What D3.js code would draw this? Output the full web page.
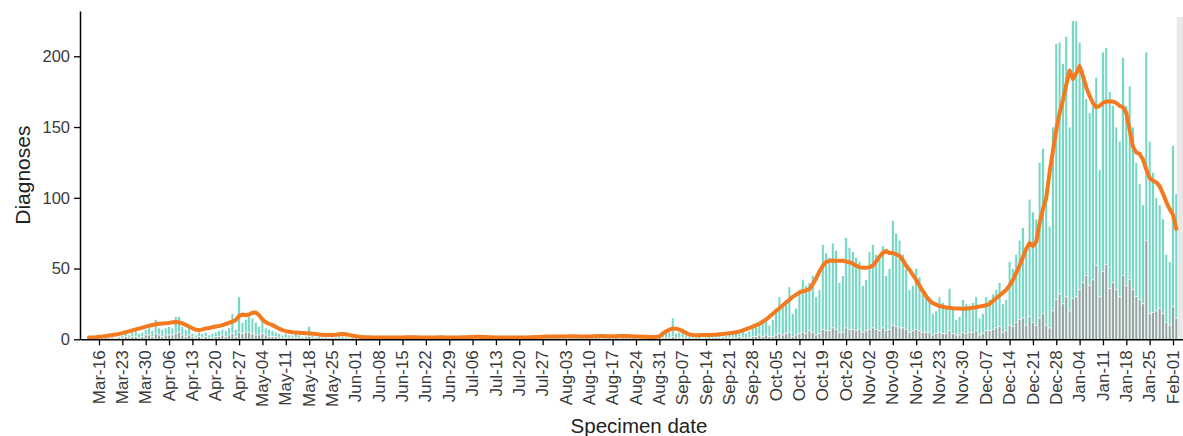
<!DOCTYPE html>
<html>
<head>
<meta charset="utf-8">
<script src="https://cdn.jsdelivr.net/npm/d3@7/dist/d3.min.js"></script>
<style>
  html, body { margin: 0; padding: 0; background: #fff; }
  svg { display: block; }
  text { font-family: "Liberation Sans", Arial, sans-serif; }
</style>
</head>
<body>
<svg id="chart" width="1183" height="436"></svg>
<script>
// Daily diagnoses by specimen date, 13 Mar 2020 – 2 Feb 2021.
// Each row below is one week (Mon..Sun); the first row is the partial week Fri 13 – Sun 15 Mar.
const firstDay = "2020-03-13";

// Full bar height (all diagnoses per day)
const dailyTotal = [
  1, 1, 2,
  2, 1, 2, 3, 2, 1, 2,            // Mar-16
  3, 4, 3, 5, 6, 4, 5,            // Mar-23
  7, 8, 6, 14, 8, 7, 8,           // Mar-30
  9, 8, 16, 16, 9, 7, 8,          // Apr-06
  4, 3, 5, 4, 5, 3, 4,            // Apr-13
  5, 6, 7, 6, 8, 18, 7,           // Apr-20
  30, 12, 14, 16, 15, 12, 9,      // Apr-27
  16, 8, 7, 6, 5, 4, 3,           // May-04
  4, 3, 3, 4, 3, 2, 2,            // May-11
  9, 3, 2, 2, 3, 2, 1,            // May-18
  3, 2, 3, 2, 2, 1, 2,            // May-25
  2, 1, 2, 1, 1, 1, 0,            // Jun-01
  2, 1, 1, 2, 1, 0, 1,            // Jun-08
  2, 1, 2, 1, 1, 1, 0,            // Jun-15
  1, 2, 1, 1, 2, 1, 1,            // Jun-22
  2, 1, 1, 2, 2, 1, 1,            // Jun-29
  2, 2, 1, 2, 1, 1, 1,            // Jul-06
  1, 2, 1, 1, 2, 1, 0,            // Jul-13
  1, 1, 2, 2, 1, 1, 2,            // Jul-20
  2, 3, 2, 1, 2, 2, 1,            // Jul-27
  2, 2, 3, 2, 1, 2, 2,            // Aug-03
  3, 2, 2, 3, 2, 1, 2,            // Aug-10
  2, 3, 2, 2, 3, 1, 2,            // Aug-17
  2, 1, 2, 2, 1, 1, 2,            // Aug-24
  3, 4, 6, 5, 15, 4, 5,           // Aug-31
  5, 3, 2, 3, 2, 2, 1,            // Sep-07
  3, 2, 3, 4, 3, 2, 3,            // Sep-14
  4, 5, 5, 6, 7, 4, 6,            // Sep-21
  9, 10, 12, 14, 15, 10, 14,      // Sep-28
  22, 30, 23, 28, 37, 18, 22,     // Oct-05
  35, 42, 38, 40, 45, 30, 35,     // Oct-12
  67, 61, 58, 68, 63, 40, 45,     // Oct-19
  72, 65, 62, 58, 55, 38, 42,     // Oct-26
  62, 67, 60, 58, 66, 45, 50,     // Nov-02
  84, 75, 70, 60, 50, 35, 38,     // Nov-09
  50, 44, 35, 30, 28, 18, 20,     // Nov-16
  30, 26, 24, 36, 22, 14, 16,     // Nov-23
  28, 25, 24, 26, 30, 15, 18,     // Nov-30
  30, 28, 32, 35, 40, 25, 28,     // Dec-07
  55, 50, 60, 70, 79, 62, 99,     // Dec-14
  90, 85, 125, 135, 100, 80, 150, // Dec-21
  209, 210, 195, 214, 150, 225, 225, // Dec-28
  210, 190, 170, 160, 165, 185, 120, // Jan-04
  203, 206, 175, 165, 150, 140, 199, // Jan-11
  165, 179, 150, 125, 110, 95, 203,  // Jan-18
  140, 118, 100, 95, 85, 60, 55,     // Jan-25
  137, 103                           // Feb-01
];

// Lower (grey) part of each bar
const dailyGrey = [
  0, 0, 1,
  1, 0, 1, 1, 1, 0, 1,
  1, 2, 1, 2, 2, 1, 2,
  3, 3, 2, 4, 3, 2, 3,
  3, 3, 4, 5, 3, 2, 3,
  2, 1, 2, 1, 2, 1, 1,
  2, 2, 3, 2, 3, 4, 2,
  5, 4, 5, 5, 4, 3, 3,
  4, 3, 2, 2, 2, 1, 1,
  1, 1, 1, 1, 1, 1, 0,
  2, 1, 1, 0, 1, 1, 0,
  1, 1, 1, 0, 1, 0, 1,
  1, 0, 1, 0, 0, 0, 0,
  1, 0, 0, 1, 0, 0, 0,
  0, 1, 0, 0, 0, 0, 0,
  0, 0, 1, 0, 1, 0, 0,
  1, 0, 0, 0, 1, 0, 0,
  0, 1, 0, 1, 0, 0, 0,
  0, 0, 1, 0, 0, 1, 0,
  0, 0, 1, 1, 0, 0, 1,
  1, 1, 0, 0, 1, 0, 0,
  0, 1, 1, 0, 0, 1, 1,
  1, 0, 1, 1, 0, 0, 1,
  0, 1, 0, 1, 1, 0, 1,
  1, 0, 1, 0, 0, 0, 1,
  1, 1, 1, 1, 2, 1, 1,
  1, 1, 0, 1, 1, 0, 0,
  1, 0, 1, 1, 1, 0, 1,
  1, 1, 1, 2, 1, 1, 1,
  2, 2, 3, 2, 3, 2, 2,
  3, 4, 3, 4, 5, 2, 3,
  4, 5, 4, 6, 5, 3, 4,
  7, 6, 6, 8, 7, 5, 5,
  8, 7, 7, 6, 7, 5, 6,
  7, 8, 7, 6, 8, 6, 7,
  10, 9, 8, 8, 7, 5, 6,
  7, 6, 5, 5, 5, 3, 4,
  5, 4, 4, 6, 4, 3, 3,
  5, 4, 5, 5, 6, 3, 4,
  6, 6, 7, 8, 9, 5, 6,
  10, 9, 12, 14, 15, 10, 16,
  12, 10, 15, 18, 10, 8, 20,
  28, 32, 25, 30, 20, 29, 30,
  35, 40, 45, 38, 42, 52, 30,
  48, 53, 36, 40, 35, 30, 45,
  38, 42, 35, 30, 28, 25, 70,
  18, 19, 20, 22, 18, 12, 10,
  23, 15
];

// Seven-day average of diagnoses (orange line)
const sevenDayAvg = [
  1.2, 1.3, 1.5,
  1.8, 2.0, 2.3, 2.7, 3.0, 3.4, 3.8,
  4.4, 5.0, 5.6, 6.3, 7.0, 7.6, 8.3,
  9.0, 9.6, 10.1, 10.6, 11.0, 11.2, 11.4,
  11.6, 12.0, 12.3, 12.0, 11.2, 10.2, 9.0,
  7.8, 6.8, 6.5, 7.0, 7.6, 8.0, 8.5,
  9.0, 9.4, 10.0, 10.8, 11.6, 12.5, 13.6,
  16.5, 17.5, 17.0, 17.5, 18.8, 19.0, 17.0,
  14.0, 12.0, 11.0, 10.0, 8.8, 7.5, 6.5,
  5.8, 5.3, 5.0, 4.8, 4.6, 4.4, 4.2,
  4.2, 4.0, 3.7, 3.4, 3.2, 3.0, 3.0,
  3.0, 3.2, 3.6, 3.8, 3.6, 3.0, 2.6,
  2.2, 1.8, 1.6, 1.5, 1.4, 1.3, 1.3,
  1.2, 1.2, 1.2, 1.3, 1.3, 1.2, 1.2,
  1.3, 1.4, 1.5, 1.5, 1.4, 1.3, 1.2,
  1.2, 1.2, 1.3, 1.3, 1.4, 1.4, 1.3,
  1.3, 1.2, 1.2, 1.3, 1.4, 1.5, 1.6,
  1.7, 1.8, 1.8, 1.7, 1.6, 1.5, 1.4,
  1.3, 1.3, 1.2, 1.2, 1.3, 1.3, 1.3,
  1.2, 1.2, 1.3, 1.4, 1.5, 1.6, 1.7,
  1.8, 1.9, 1.9, 2.0, 2.0, 1.9, 1.9,
  2.0, 2.1, 2.2, 2.1, 2.0, 1.9, 1.9,
  2.0, 2.1, 2.2, 2.3, 2.3, 2.2, 2.1,
  2.1, 2.2, 2.3, 2.4, 2.3, 2.2, 2.1,
  2.0, 1.9, 1.8, 1.8, 1.7, 1.7, 1.8,
  2.0, 4.0, 5.6, 6.8, 7.6, 7.5, 6.8,
  5.8, 4.5, 3.4, 3.0, 2.9, 2.9, 3.0,
  3.0, 3.1, 3.2, 3.3, 3.5, 3.7, 4.0,
  4.3, 4.6, 5.0, 5.6, 6.3, 7.2, 8.0,
  9.0, 10.0, 11.0, 12.5, 14.0, 16.0, 18.0,
  20, 22, 24, 26, 28, 30, 31.5,
  33, 34, 34.5, 35.5, 39, 43, 48,
  52, 54.5, 55.5, 55.5, 55.5, 55.5, 55.5,
  55, 54.5, 53.5, 52, 51, 50.5, 50.5,
  51, 52, 55, 58.5, 61, 62.5, 61,
  61, 60, 59, 56, 52, 49, 45.5,
  42, 38, 34, 30.5, 27.5, 25.5, 24.5,
  23.5, 23, 22.5, 22.3, 22, 21.8, 21.7,
  21.6, 21.7, 22, 22.3, 22.7, 23.2, 23.6,
  24, 25, 27, 29, 31, 33, 35,
  38, 42, 47, 52, 58, 64, 68,
  66, 69, 82, 92, 100, 118, 133,
  148, 160, 169, 180, 190, 184, 188,
  193, 186, 178, 172, 167, 164, 165,
  167, 168, 168, 168, 167, 165, 164,
  160, 148, 136, 132, 131, 127, 120,
  114, 112, 111, 108, 103, 97, 92,
  88, 78
];

const yTicks = [0, 50, 100, 150, 200];
const firstTick = "2020-03-16";
const lastTick = "2021-02-01";
const incompleteFrom = "2021-02-02T02:00:00Z";

const W = 1183, H = 436;
const plotLeft = 80, plotRight = 1183, plotTop = 11, plotBottom = 339.3;

const parse = d3.utcParse("%Y-%m-%d");
const day0 = parse(firstDay);
const rows = dailyTotal.map((t, i) => ({
  date: d3.utcDay.offset(day0, i),
  total: t,
  grey: dailyGrey[i],
  avg: sevenDayAvg[i]
}));

// Tick dates sit at fixed pixel positions; extend the same scale to the panel edges
const xRef = d3.scaleUtc()
  .domain([parse(firstTick), parse(lastTick)])
  .range([99, 1173]);
const x = d3.scaleUtc()
  .domain([xRef.invert(plotLeft), xRef.invert(plotRight)])
  .range([plotLeft, plotRight]);

const y = d3.scaleLinear().domain([0, 232]).range([plotBottom, plotTop]);

const svg = d3.select("#chart");

// shaded region for the most recent, incomplete days
svg.append("rect")
  .attr("x", x(new Date(incompleteFrom)))
  .attr("y", 17)
  .attr("width", plotRight - x(new Date(incompleteFrom)) + 5)
  .attr("height", plotBottom - 17)
  .attr("fill", "#e9e9e9");

const step = x(d3.utcDay.offset(day0, 1)) - x(day0);
const bw = step * 0.82;

const bars = svg.append("g");
// upper teal part
bars.selectAll("rect.teal")
  .data(rows.filter(d => d.total > d.grey))
  .join("rect")
  .attr("class", "teal")
  .attr("x", d => x(d.date) - bw / 2)
  .attr("width", bw)
  .attr("y", d => y(d.total))
  .attr("height", d => y(d.grey) - y(d.total))
  .attr("fill", "#76d7c5")
  .attr("stroke", "#ffffff")
  .attr("stroke-width", 0.6);
// lower grey part
bars.selectAll("rect.grey")
  .data(rows.filter(d => d.grey > 0))
  .join("rect")
  .attr("class", "grey")
  .attr("x", d => x(d.date) - bw / 2)
  .attr("width", bw)
  .attr("y", d => y(d.grey))
  .attr("height", d => y(0) - y(d.grey))
  .attr("fill", "#94a6a3")
  .attr("stroke", "#ffffff")
  .attr("stroke-width", 0.6);

// seven-day average
svg.append("path")
  .datum(rows)
  .attr("fill", "none")
  .attr("stroke", "#f47a1f")
  .attr("stroke-width", 4)
  .attr("stroke-linejoin", "round")
  .attr("stroke-linecap", "round")
  .attr("d", d3.line().x(d => x(d.date)).y(d => y(d.avg)));

// y axis
const yAxis = svg.append("g")
  .attr("transform", `translate(${plotLeft},0)`)
  .call(d3.axisLeft(y).tickValues(yTicks).tickSize(6).tickSizeOuter(0).tickPadding(4));
yAxis.select(".domain").attr("stroke", "#000").attr("stroke-width", 1.5);
yAxis.selectAll(".tick line").attr("stroke", "#000").attr("stroke-width", 1.3);
yAxis.selectAll(".tick text")
  .attr("font-size", 16.5)
  .attr("fill", "#3a3a3a")
  .attr("font-family", "Liberation Sans, Arial, sans-serif");

// x axis, weekly Monday ticks
const mondays = d3.utcMonday.range(parse(firstTick), d3.utcDay.offset(parse(lastTick), 1));
const xAxis = svg.append("g")
  .attr("transform", `translate(0,${plotBottom})`)
  .call(d3.axisBottom(x).tickValues(mondays).tickFormat(d3.utcFormat("%b-%d")).tickSize(6).tickSizeOuter(0));
xAxis.select(".domain").attr("stroke", "#000").attr("stroke-width", 1.5);
xAxis.selectAll(".tick line").attr("stroke", "#000").attr("stroke-width", 1.3);
xAxis.selectAll(".tick text")
  .attr("font-size", 17)
  .attr("fill", "#3a3a3a")
  .attr("font-family", "Liberation Sans, Arial, sans-serif")
  .attr("text-anchor", "end")
  .attr("transform", "rotate(-90)")
  .attr("x", -11)
  .attr("y", 0)
  .attr("dy", "0.3em");

// axis titles
svg.append("text")
  .attr("x", 639)
  .attr("y", 433)
  .attr("text-anchor", "middle")
  .attr("font-size", 20.5)
  .attr("fill", "#222")
  .text("Specimen date");

svg.append("text")
  .attr("transform", `translate(30,${(plotTop + plotBottom) / 2}) rotate(-90)`)
  .attr("text-anchor", "middle")
  .attr("font-size", 21)
  .attr("fill", "#222")
  .text("Diagnoses");
</script>
</body>
</html>
